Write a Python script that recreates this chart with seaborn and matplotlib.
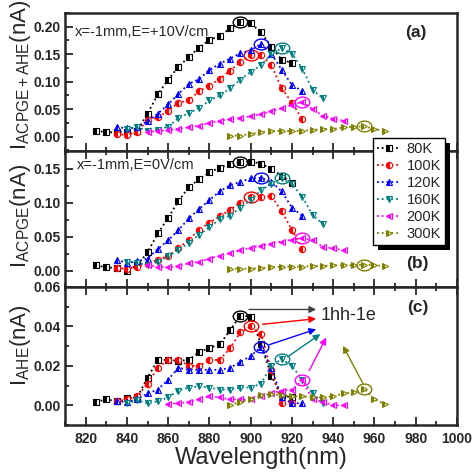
import numpy as np
import pandas as pd
import matplotlib
matplotlib.use('Agg')
import matplotlib.pyplot as plt
import seaborn as sns
from matplotlib.path import Path
from matplotlib.markers import MarkerStyle
from matplotlib.transforms import Affine2D
from matplotlib.patches import Rectangle
from matplotlib.ticker import MultipleLocator, FormatStrFormatter

sns.set_style('ticks')
plt.rcParams['font.family'] = ['Liberation Sans', 'DejaVu Sans']
plt.rcParams['mathtext.fontset'] = 'custom'
plt.rcParams['mathtext.rm'] = 'Liberation Sans'
plt.rcParams['mathtext.it'] = 'Liberation Sans:italic'
plt.rcParams['mathtext.bf'] = 'Liberation Sans:bold'

## Series description
temps = ['80K', '100K', '120K', '160K', '200K', '300K']
colors = ['#000000', '#FF0000', '#0000FF', '#008080', '#FF00FF', '#808000']
markers = ['s', 'o', '^', 'v', '<', '>']
peak_wl = [895, 900, 905, 915, 925, 955]   # circled points

## Wavelengths (nm)
wl_80K = [825, 830, 835, 840, 845, 850, 855, 860, 865, 870, 875, 880, 885, 890, 895, 900, 905, 910, 915, 920]
wl_100K = [835, 840, 845, 850, 855, 860, 865, 870, 875, 880, 885, 890, 895, 900, 905, 910, 915, 920, 925]
wl_120K = [835, 840, 845, 850, 855, 860, 865, 870, 875, 880, 885, 890, 895, 900, 905, 910, 915, 920, 925]
wl_160K = [840, 845, 850, 855, 860, 865, 870, 875, 880, 885, 890, 895, 900, 905, 910, 915, 920, 925, 930, 935]
wl_200K = [850, 855, 860, 865, 870, 875, 880, 885, 890, 895, 900, 905, 910, 915, 920, 925, 930, 935, 940, 945]
wl_300K = [890, 895, 900, 905, 910, 915, 920, 925, 930, 935, 940, 945, 950, 955, 960, 965]

## Panel (a): I_ACPGE+AHE (nA), E=+10V/cm
a_80K = [0.011, 0.008, 0.008, 0.009, 0.011, 0.042, 0.077, 0.104, 0.127, 0.145, 0.162, 0.176, 0.183, 0.197, 0.208, 0.206, 0.190, 0.164, 0.140, 0.134]
a_100K = [0.005, 0.003, 0.009, 0.030, 0.035, 0.047, 0.062, 0.066, 0.083, 0.093, 0.105, 0.120, 0.136, 0.148, 0.148, 0.130, 0.088, 0.062, 0.032]
a_120K = [0.018, 0.015, 0.017, 0.028, 0.042, 0.059, 0.078, 0.096, 0.105, 0.121, 0.133, 0.142, 0.152, 0.157, 0.169, 0.151, 0.122, 0.094, 0.083]
a_160K = [0.014, 0.017, 0.011, 0.013, 0.018, 0.034, 0.043, 0.052, 0.066, 0.075, 0.088, 0.104, 0.118, 0.130, 0.150, 0.161, 0.151, 0.124, 0.085, 0.070]
a_200K = [0.009, 0.010, 0.012, 0.014, 0.017, 0.020, 0.025, 0.029, 0.032, 0.034, 0.037, 0.041, 0.046, 0.052, 0.058, 0.063, 0.050, 0.038, 0.033, 0.029]
a_300K = [0.002, 0.002, 0.005, 0.008, 0.010, 0.011, 0.010, 0.011, 0.012, 0.014, 0.014, 0.017, 0.018, 0.019, 0.014, 0.010]

## Panel (b): I_ACPGE (nA), E=0V/cm
b_80K = [0.008, 0.005, 0.004, 0.000, 0.008, 0.027, 0.055, 0.078, 0.103, 0.123, 0.135, 0.145, 0.152, 0.157, 0.160, 0.161, 0.158, 0.150, 0.140, 0.130]
b_100K = [0.004, 0.003, 0.006, 0.010, 0.016, 0.022, 0.033, 0.046, 0.060, 0.071, 0.080, 0.090, 0.100, 0.109, 0.109, 0.110, 0.088, 0.060, 0.032]
b_120K = [0.016, 0.012, 0.014, 0.018, 0.032, 0.045, 0.060, 0.077, 0.091, 0.104, 0.117, 0.126, 0.131, 0.136, 0.137, 0.131, 0.117, 0.093, 0.081]
b_160K = [0.013, 0.012, 0.008, 0.013, 0.021, 0.031, 0.041, 0.053, 0.064, 0.076, 0.081, 0.093, 0.104, 0.119, 0.128, 0.136, 0.128, 0.109, 0.082, 0.069]
b_200K = [0.008, 0.006, 0.005, 0.007, 0.011, 0.013, 0.018, 0.022, 0.026, 0.030, 0.034, 0.037, 0.040, 0.043, 0.046, 0.048, 0.045, 0.035, 0.033, 0.030]
b_300K = [0.003, 0.003, 0.003, 0.004, 0.005, 0.006, 0.006, 0.006, 0.007, 0.007, 0.008, 0.008, 0.008, 0.009, 0.008, 0.007]

## Panel (c): I_AHE (nA)
c_80K = [0.0017, 0.003, 0.002, 0.0035, 0.004, 0.014, 0.023, 0.023, 0.0225, 0.023, 0.027, 0.029, 0.031, 0.038, 0.0455, 0.045, 0.031, 0.015, 0.005, 0.004]
c_100K = [0.002, 0.003, 0.0045, 0.011, 0.019, 0.023, 0.023, 0.020, 0.020, 0.023, 0.023, 0.029, 0.037, 0.040, 0.036, 0.018, 0.001, 0.001, np.nan]
c_120K = [0.002, 0.0017, 0.003, 0.006, 0.008, 0.013, 0.019, 0.018, 0.018, 0.018, 0.018, 0.019, 0.022, 0.025, 0.0295, 0.019, 0.004, 0.001, 0.001]
c_160K = [0.001, 0.0025, 0.001, 0.002, 0.004, 0.0075, 0.009, 0.0096, 0.009, 0.008, 0.008, 0.009, 0.009, 0.011, 0.020, 0.0235, 0.020, 0.013, 0.006, 0.001]
c_200K = [np.nan, np.nan, 0.0008, 0.001, 0.0017, 0.003, 0.0045, 0.004, 0.003, 0.003, 0.003, 0.0045, 0.006, 0.0075, 0.008, 0.0126, 0.003, 0.0017, 0.000, 0.000]
c_300K = [0.000, 0.0017, 0.003, 0.005, 0.0055, 0.005, 0.0045, 0.0045, 0.004, 0.004, 0.0045, 0.006, 0.0067, 0.0084, 0.003, 0.0005]

## 1hh-1e arrows in panel (c): tail and head (nm, nA)
arrow_tail = [(899.2, 0.0486), (905.7, 0.0411), (908.9, 0.0307), (917.9, 0.0246), (928.4, 0.0176), (954.5, 0.0109)]
arrow_head = [(931.7, 0.0486), (931.7, 0.0439), (931.7, 0.0386), (933.8, 0.0361), (936.6, 0.0344), (944.7, 0.0302)]
arrow_colors = ['#404040', '#FF0000', '#0000FF', '#008080', '#FF00FF', '#808000']

# %%
''' Long table '''
wls = [wl_80K, wl_100K, wl_120K, wl_160K, wl_200K, wl_300K]
panel_data = {
    'a': [a_80K, a_100K, a_120K, a_160K, a_200K, a_300K],
    'b': [b_80K, b_100K, b_120K, b_160K, b_200K, b_300K],
    'c': [c_80K, c_100K, c_120K, c_160K, c_200K, c_300K],
}
frames = []
for panel, series in panel_data.items():
    for t, wl, vals in zip(temps, wls, series):
        frames.append(pd.DataFrame({'panel': panel, 'temp': t, 'wl': wl, 'cur': vals}))
data = pd.concat(frames, ignore_index=True).dropna()

# %%
''' Figure '''
fig = plt.figure(figsize=(4.73, 4.75), dpi=100)
L, W = 65 / 473, 392 / 473
ax_a = fig.add_axes([L, 1 - 151 / 475, W, 138 / 475])
ax_b = fig.add_axes([L, 1 - 287 / 475, W, 136 / 475])
ax_c = fig.add_axes([L, 1 - 425 / 475, W, 138 / 475])
axes = {'a': ax_a, 'b': ax_b, 'c': ax_c}

ell_marker = MarkerStyle(Path.unit_circle().transformed(Affine2D().scale(1.35, 1.0)))

for panel, ax in axes.items():
    for t, col, mk, pk in zip(temps, colors, markers, peak_wl):
        d = data[(data.panel == panel) & (data.temp == t)]
        sns.lineplot(data=d, x='wl', y='cur', ax=ax, color=col, marker=mk,
                     linestyle=':', linewidth=1.3, markersize=4.5,
                     fillstyle='left', markerfacecoloralt='white',
                     markeredgecolor=col, markeredgewidth=0.8,
                     label=t, legend=False)
        p = d[d.wl == pk]
        ax.plot(p.wl, p.cur, linestyle='none', marker=ell_marker, markersize=10.5,
                markerfacecolor='none', markeredgecolor=col, markeredgewidth=1.0)

ax_a.set_ylim(-0.026, 0.225)
ax_b.set_ylim(-0.024, 0.1765)
ax_c.set_ylim(-0.010, 0.060)
ax_a.yaxis.set_major_locator(MultipleLocator(0.05))
ax_a.yaxis.set_minor_locator(MultipleLocator(0.025))
ax_b.yaxis.set_major_locator(MultipleLocator(0.05))
ax_b.yaxis.set_minor_locator(MultipleLocator(0.025))
ax_c.yaxis.set_major_locator(MultipleLocator(0.02))
ax_c.yaxis.set_minor_locator(MultipleLocator(0.01))

for panel, ax in axes.items():
    ax.set_xlim(810, 1000)
    ax.xaxis.set_major_locator(MultipleLocator(20))
    ax.xaxis.set_minor_locator(MultipleLocator(10))
    ax.yaxis.set_major_formatter(FormatStrFormatter('%.2f'))
    ax.tick_params(which='both', direction='in', top=(panel != 'a'), right=False,
                   width=1.3, labelsize=10, pad=3)
    ax.tick_params(which='major', length=5.5)
    ax.tick_params(which='minor', length=3)
    for s in ax.spines.values():
        s.set_linewidth(1.8)
    ax.set_xlabel('')

ax_a.tick_params(labelbottom=False)
ax_b.tick_params(labelbottom=False)
ax_c.tick_params(axis='x', pad=5)

ax_a.set_ylabel(r'I$_{\mathrm{ACPGE+AHE}}$(nA)', fontsize=16)
ax_b.set_ylabel(r'I$_{\mathrm{ACPGE}}$(nA)', fontsize=16)
ax_c.set_ylabel(r'I$_{\mathrm{AHE}}$(nA)', fontsize=16)
ax_a.yaxis.set_label_coords(-0.082, 0.55)
ax_b.yaxis.set_label_coords(-0.082, 0.52)
ax_c.yaxis.set_label_coords(-0.082, 0.58)
ax_c.set_xlabel('Wavelength(nm)', fontsize=17, labelpad=1)

## Texts
ax_a.text(0.025, 0.862, 'x=-1mm,E=+10V/cm', transform=ax_a.transAxes, fontsize=10.5, va='center')
ax_b.text(0.03, 0.897, 'x=-1mm,E=0V/cm', transform=ax_b.transAxes, fontsize=10.5, va='center')
ax_a.text(0.895, 0.862, '(a)', transform=ax_a.transAxes, fontsize=12.5, fontweight='bold', ha='center', va='center')
ax_b.text(0.900, 0.176, '(b)', transform=ax_b.transAxes, fontsize=12.5, fontweight='bold', ha='center', va='center')
ax_c.text(0.900, 0.848, '(c)', transform=ax_c.transAxes, fontsize=12.5, fontweight='bold', ha='center', va='center')

## Arrows to 1hh-1e
for (tx, ty), (hx, hy), col in zip(arrow_tail, arrow_head, arrow_colors):
    ax_c.annotate('', xy=(hx, hy), xytext=(tx, ty),
                  arrowprops=dict(arrowstyle='-|>', color=col, lw=1.0,
                                  mutation_scale=10, shrinkA=0, shrinkB=0))
ax_c.text(934, 0.0455, '1hh-1e', fontsize=13, ha='left', va='center')

## Legend
handles, labels = ax_b.get_legend_handles_labels()
leg = fig.legend(handles, labels, loc='upper left', bbox_to_anchor=(373 / 473, 1 - 138 / 475),
                 frameon=True, fancybox=False, edgecolor='black', framealpha=1,
                 fontsize=10.5, handlelength=1.6, handletextpad=0.4,
                 labelspacing=0.2, borderpad=0.3, borderaxespad=0)
leg.get_frame().set_linewidth(1.0)
for txt in leg.get_texts():
    txt.set_horizontalalignment('right')

fig.canvas.draw()
for ax in axes.values():
    plt.setp(ax.get_xticklabels(), fontweight='bold')
    plt.setp(ax.get_yticklabels(), fontweight='bold')

## Legend shadow
bb = leg.get_window_extent().transformed(fig.transFigure.inverted())
shadow = Rectangle((bb.x0 + 5 / 473, bb.y0 - 5 / 475), bb.width, bb.height,
                   transform=fig.transFigure, facecolor='black', edgecolor='none', zorder=4.9)
fig.add_artist(shadow)

fig.savefig('out.png', dpi=100)
